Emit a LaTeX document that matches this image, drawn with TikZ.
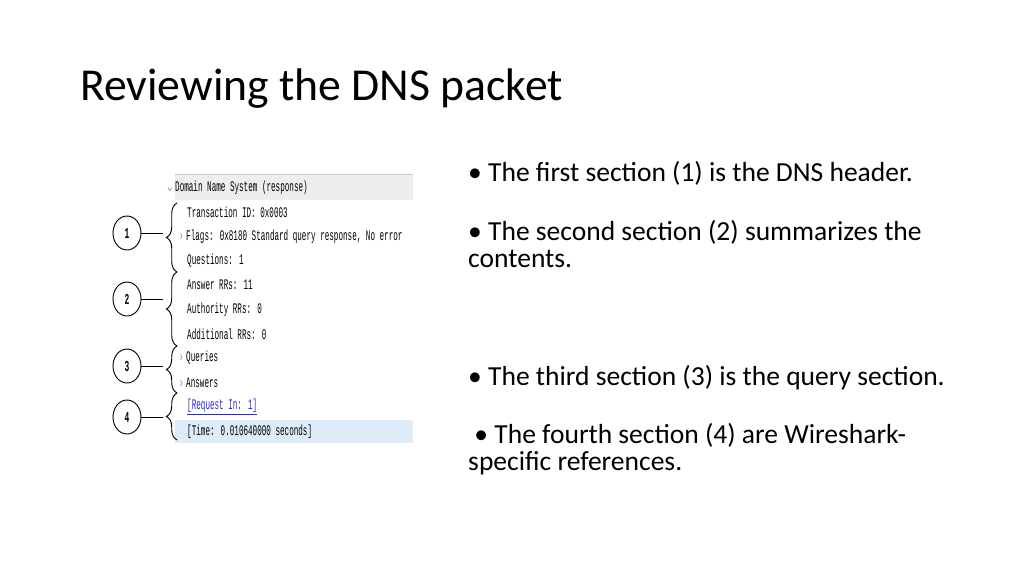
\documentclass[tikz,border=0pt]{standalone}
\usepackage{fontspec}
\setmainfont{Carlito}
\newfontfamily\condmono[FakeStretch=0.52]{Liberation Mono}
\usetikzlibrary{decorations.pathreplacing}
\usetikzlibrary{shapes.geometric}
\definecolor{rowgrey}{RGB}{238,238,238}
\definecolor{rowblue}{RGB}{222,236,250}
\definecolor{linkblue}{RGB}{40,40,230}
\tikzset{
	pkt/.style={anchor=west, inner sep=0pt, font=\condmono\fontsize{12.5}{14}\selectfont},
	num/.style={draw, thick, ellipse, minimum width=0.84cm, minimum height=1.02cm, inner sep=0pt, font=\bfseries\condmono\fontsize{13}{14}\selectfont},
	bullet/.style={anchor=base west, inner sep=0pt, align=left, font=\fontsize{23.5}{22.5}\selectfont},
	brc/.style={decorate, thick, decoration={brace, amplitude=9pt, aspect=0.5}}
}
\begin{document}
\begin{tikzpicture}[x=0.03cm, y=-0.03cm]
	\useasboundingbox (0,0) rectangle (1024,576);

%% Title
	\node[anchor=base west, inner sep=0pt, font=\fontsize{39}{44}\selectfont] (title) at (80,100) {Reviewing the DNS packet};

%% Packet panel
	\fill[rowgrey] (175,175) rectangle (413,200);
	\draw[rowblue!70!gray, thin] (175,174) -- (413,174);
	\fill[rowblue] (175,420) rectangle (413,443);
	\node[pkt] (dns)  at (167,188) {{\tiny$\vee$}\,Domain Name System (response)};
	\node[pkt] (tid)  at (187,212) {Transaction ID: 0x0003};
	\node[pkt] (flag) at (179,237) {\textcolor{gray}{›}\,Flags: 0x8180 Standard query response, No error};
	\node[pkt] (que)  at (187,261) {Questions: 1};
	\node[pkt] (ans)  at (187,285) {Answer RRs: 11};
	\node[pkt] (aut)  at (187,310) {Authority RRs: 0};
	\node[pkt] (add)  at (187,334) {Additional RRs: 0};
	\node[pkt] (qry)  at (179,358) {\textcolor{gray}{›}\,Queries};
	\node[pkt] (answ) at (179,383) {\textcolor{gray}{›}\,Answers};
	\node[pkt, text=linkblue] (req) at (187,407) {\underline{[Request In: 1]}};
	\node[pkt] (time) at (187,432) {[Time: 0.010640000 seconds]};

%% Braces
	\foreach \n/\top/\bot/\mid in {1/203/272/233, 2/272/346/299, 3/346/393/366, 4/393/440/417} {
		\node[num] (c\n) at (127,\mid) {\n};
		\draw[brc] (177,\bot) -- (177,\top);
		\draw[thick] (c\n.east) -- (c\n.east -| 163,0);
	}

%% Bullets
	\node[bullet] (p1) at (468,181) {• The first section (1) is the DNS header.};
	\node[bullet] (p2) at (468,267) {• The second section (2) summarizes the\\contents.};
	\node[bullet] (p3) at (468,385) {• The third section (3) is the query section.};
	\node[bullet] (p4) at (468,470) {\ • The fourth section (4) are Wireshark-\\specific references.};
\end{tikzpicture}
\end{document}
